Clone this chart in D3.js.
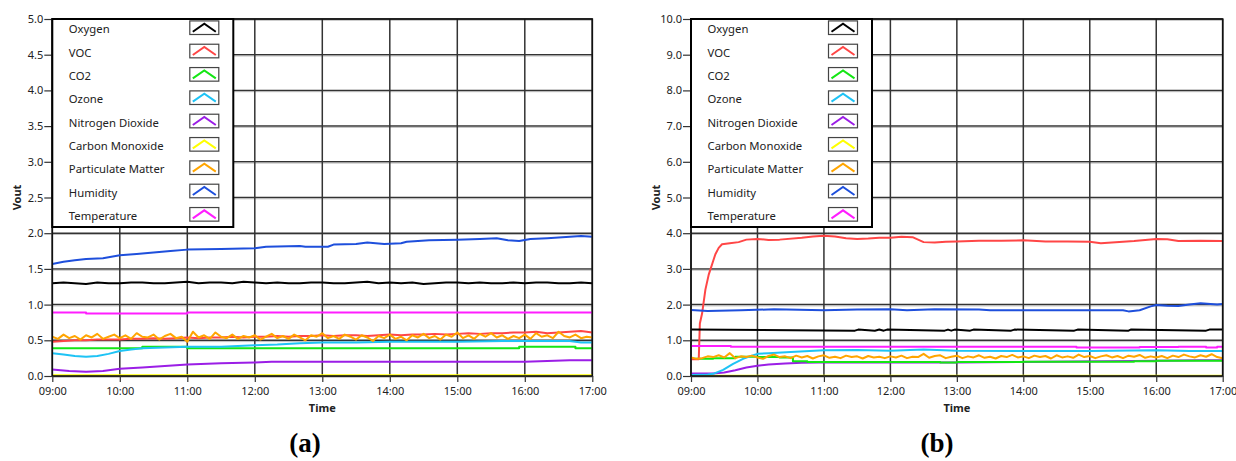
<!DOCTYPE html>
<html><head><meta charset="utf-8">
<script src="https://cdn.jsdelivr.net/npm/d3@7"></script>
<style>
body{margin:0;background:#fff;}
svg{display:block;}
text{font-family:"Noto Sans",sans-serif;fill:#222;}
text.plabel{font-family:"Liberation Serif","Times New Roman",serif;font-weight:bold;fill:#000;}
</style>
</head><body>
<svg id="c" width="1236" height="461"></svg>
<script>
// ---------------- DATA ----------------
const seriesNames = ["Oxygen","VOC","CO2","Ozone","Nitrogen Dioxide","Carbon Monoxide","Particulate Matter","Humidity","Temperature"];
const seriesColors = ["#000000","#ff4646","#14e614","#1ec3f5","#9b1ee6","#ffff00","#ffa500","#1e4fdc","#ff1eff"];
const drawOrder = ["Carbon Monoxide","Nitrogen Dioxide","CO2","Ozone","VOC","Particulate Matter","Oxygen","Humidity","Temperature"];
const stepSeries = ["CO2","Temperature"];
const yTicksA = [0,0.5,1,1.5,2,2.5,3,3.5,4,4.5,5];
const yTicksB = [0,1,2,3,4,5,6,7,8,9,10];
const timeStart = "09:00", timeEnd = "17:00";

// Panel (a) -- grid series (10-minute samples)
const oxygenA = [1.30,1.31,1.30,1.29,1.31,1.30,1.30,
 1.31,1.31,1.30,1.30,1.31,1.32,1.30,
 1.31,1.31,1.30,1.32,1.31,1.30,1.31,
 1.30,1.30,1.31,1.31,1.30,1.30,1.31,
 1.32,1.30,1.31,1.30,1.31,1.29,1.30,
 1.31,1.31,1.30,1.31,1.30,1.30,1.31,
 1.30,1.31,1.31,1.30,1.30,1.31,1.30];
const vocA = [0.48,0.49,0.50,0.50,0.51,0.51,
 0.51,0.52,0.52,0.53,0.52,0.53,
 0.54,0.53,0.54,0.54,0.55,0.54,
 0.55,0.55,0.56,0.55,0.56,0.56,
 0.57,0.56,0.57,0.57,0.56,0.57,
 0.58,0.57,0.58,0.58,0.59,0.58,
 0.59,0.60,0.59,0.60,0.60,0.61,
 0.61,0.62,0.60,0.61,0.62,0.63,
 0.61];
// Particulate matter (5-minute samples)
const pmA = [0.55,0.52,0.58,0.53,0.56,0.51,0.57,0.54,0.59,0.52,0.55,0.58,
 0.53,0.57,0.52,0.60,0.55,0.54,0.58,0.51,0.56,0.59,0.53,0.55,
 0.48,0.62,0.54,0.57,0.52,0.61,0.55,0.53,0.58,0.52,0.56,0.54,
 0.57,0.51,0.55,0.59,0.53,0.56,0.52,0.58,0.54,0.50,0.57,0.55,
 0.60,0.53,0.56,0.52,0.58,0.55,0.51,0.57,0.54,0.49,0.56,0.53,
 0.58,0.52,0.55,0.50,0.57,0.54,0.59,0.53,0.56,0.51,0.58,0.55,
 0.61,0.53,0.57,0.52,0.59,0.55,0.60,0.54,0.57,0.52,0.56,0.53,
 0.58,0.52,0.60,0.55,0.57,0.53,0.62,0.56,0.54,0.58,0.53,0.55,
 0.54];
// Panel (a) -- breakpoint series
const co2A = [["09:00",0.39],["10:20",0.41],["11:00",0.39],["15:55",0.41],["16:45",0.39],["17:00",0.39]];
const ozoneA = [["09:00",0.32],["09:10",0.30],["09:20",0.28],["09:30",0.27],["09:40",0.28],["09:50",0.31],["10:00",0.35],["10:10",0.37],["10:20",0.39],["10:40",0.40],["11:00",0.41],["11:30",0.41],["12:00",0.43],["12:20",0.44],["12:40",0.46],["13:00",0.47],["13:30",0.47],["14:00",0.48],["15:00",0.48],["15:40",0.49],["16:40",0.49],["16:50",0.47],["17:00",0.47]];
const no2A = [["09:00",0.09],["09:15",0.07],["09:30",0.06],["09:45",0.07],["10:00",0.10],["10:20",0.12],["10:40",0.14],["11:00",0.16],["11:30",0.18],["12:00",0.19],["12:15",0.20],["14:00",0.20],["16:00",0.20],["16:40",0.22],["17:00",0.22]];
const coA = [["09:00",0.01],["17:00",0.01]];
const humidityA = [["09:00",1.57],["09:10",1.60],["09:20",1.62],["09:30",1.64],["09:45",1.65],["10:00",1.69],["10:15",1.71],["10:30",1.73],["10:45",1.75],["11:00",1.77],["11:30",1.78],["12:00",1.79],["12:10",1.81],["12:40",1.82],["12:45",1.81],["13:05",1.81],["13:10",1.84],["13:30",1.85],["13:40",1.87],["13:55",1.85],["14:10",1.86],["14:15",1.88],["14:35",1.90],["15:00",1.91],["15:20",1.92],["15:35",1.93],["15:45",1.90],["15:55",1.89],["16:05",1.92],["16:20",1.93],["16:40",1.95],["16:50",1.96],["17:00",1.95]];
const temperatureA = [["09:00",0.89],["09:30",0.875],["11:00",0.89],["17:00",0.89]];

// Panel (b)
const oxygenB = [["09:00",1.30],["11:28",1.27],["11:31",1.30],["11:46",1.27],["11:50",1.30],["11:54",1.27],["11:57",1.30],["12:49",1.27],["12:52",1.30],["12:55",1.27],["12:58",1.30],["13:12",1.27],["13:15",1.30],["13:49",1.27],["13:52",1.30],["14:46",1.27],["14:49",1.30],["15:35",1.27],["15:37",1.30],["16:45",1.27],["16:48",1.30],["17:00",1.30]];
const vocB = [["09:00",0.47],["09:07",0.47],["09:08",1.47],["09:10",1.75],["09:13",2.42],["09:16",2.84],["09:18",3.03],["09:20",3.22],["09:22",3.41],["09:25",3.59],["09:28",3.69],["09:35",3.72],["09:43",3.75],["09:50",3.82],["10:00",3.84],["10:10",3.81],["10:20",3.82],["10:40",3.87],["10:50",3.91],["11:00",3.93],["11:10",3.91],["11:20",3.86],["11:30",3.84],["11:40",3.85],["11:50",3.87],["12:00",3.87],["12:10",3.90],["12:20",3.89],["12:30",3.75],["12:40",3.74],["12:50",3.76],["13:00",3.77],["13:20",3.79],["13:40",3.79],["14:00",3.80],["14:20",3.77],["14:40",3.77],["15:00",3.76],["15:10",3.72],["15:20",3.74],["15:40",3.78],["16:00",3.84],["16:10",3.83],["16:20",3.78],["16:40",3.79],["17:00",3.78]];
const co2B = [["09:00",0.48],["09:20",0.50],["09:40",0.54],["10:00",0.53],["10:20",0.52],["10:32",0.41],["10:45",0.39],["12:45",0.38],["13:00",0.39],["14:00",0.40],["15:40",0.41],["16:00",0.43],["17:00",0.43]];
const ozoneB = [["09:00",0.03],["09:15",0.04],["09:20",0.06],["09:29",0.17],["09:38",0.34],["09:47",0.48],["09:55",0.57],["10:00",0.62],["10:10",0.64],["10:30",0.67],["11:00",0.72],["11:30",0.73],["12:00",0.71],["12:30",0.74],["13:00",0.71],["14:00",0.70],["15:00",0.70],["16:00",0.72],["16:30",0.70],["17:00",0.70]];
const no2B = [["09:00",0.07],["09:20",0.07],["09:30",0.10],["09:40",0.16],["09:50",0.24],["10:00",0.29],["10:10",0.32],["10:25",0.35],["10:40",0.37],["10:55",0.38],["13:00",0.38],["15:40",0.42],["16:40",0.44],["17:00",0.44]];
const coB = [["09:00",0.01],["17:00",0.01]];
const pmB = [0.52,0.48,0.50,0.55,0.53,0.58,0.52,0.64,0.50,0.55,0.53,0.57,
 0.52,0.48,0.56,0.60,0.53,0.55,0.50,0.57,0.52,0.56,0.49,0.55,
 0.58,0.51,0.54,0.50,0.57,0.53,0.55,0.49,0.56,0.52,0.54,0.50,
 0.55,0.52,0.57,0.50,0.54,0.53,0.62,0.51,0.56,0.58,0.50,0.54,
 0.57,0.50,0.55,0.52,0.58,0.51,0.54,0.49,0.56,0.53,0.59,0.52,
 0.55,0.50,0.57,0.53,0.56,0.49,0.58,0.52,0.55,0.51,0.60,0.53,
 0.56,0.50,0.55,0.58,0.52,0.56,0.50,0.57,0.54,0.59,0.51,0.55,
 0.52,0.56,0.50,0.57,0.53,0.60,0.55,0.52,0.58,0.54,0.61,0.53,
 0.50];
const humidityB = [["09:00",1.85],["09:15",1.82],["09:45",1.84],["10:15",1.87],["11:00",1.84],["11:30",1.86],["12:00",1.87],["12:15",1.84],["12:40",1.87],["13:20",1.86],["13:30",1.84],["15:30",1.84],["15:35",1.81],["15:45",1.84],["15:55",1.95],["16:00",1.99],["16:10",1.97],["16:20",1.96],["16:30",2.00],["16:40",2.04],["16:55",2.00],["17:00",2.02]];
const temperatureB = [["09:00",0.84],["09:36",0.82],["14:48",0.80],["15:45",0.81],["16:20",0.82],["16:45",0.80],["16:55",0.82],["17:00",0.82]];

// ---------------- HELPERS ----------------
function tm(s){const p=s.split(":").map(Number);return new Date(2000,0,1,p[0],p[1]);}
function pairs(arr){return arr.map(d=>[tm(d[0]),d[1]]);}
function grid(vals,stepMin){return vals.map((v,i)=>[new Date(2000,0,1,9,i*stepMin),v]);}

const panels = [
 {L:52.3,R:592.3,T:19,B:376,yMax:5,yTicks:yTicksA,label:"(a)",labelX:305,
  data:{"Oxygen":grid(oxygenA,10),"VOC":grid(vocA,10),"CO2":pairs(co2A),"Ozone":pairs(ozoneA),
        "Nitrogen Dioxide":pairs(no2A),"Carbon Monoxide":pairs(coA),"Particulate Matter":grid(pmA,5),
        "Humidity":pairs(humidityA),"Temperature":pairs(temperatureA)}},
 {L:691,R:1222.7,T:19,B:376,yMax:10,yTicks:yTicksB,label:"(b)",labelX:937,
  data:{"Oxygen":pairs(oxygenB),"VOC":pairs(vocB),"CO2":pairs(co2B),"Ozone":pairs(ozoneB),
        "Nitrogen Dioxide":pairs(no2B),"Carbon Monoxide":pairs(coB),"Particulate Matter":grid(pmB,5),
        "Humidity":pairs(humidityB),"Temperature":pairs(temperatureB)}}
];

const svg = d3.select("#c");
const color = d3.scaleOrdinal().domain(seriesNames).range(seriesColors);

panels.forEach((p,pi)=>{
  const g = svg.append("g");
  const x = d3.scaleTime().domain([tm(timeStart),tm(timeEnd)]).range([p.L,p.R]);
  const y = d3.scaleLinear().domain([0,p.yMax]).range([p.B,p.T]);

  g.append("rect").attr("x",p.L).attr("y",p.T).attr("width",p.R-p.L).attr("height",p.B-p.T).attr("fill","#fff");

  // grid
  const hours = d3.timeHour.range(tm(timeStart), new Date(+tm(timeEnd)+1));
  g.append("g").selectAll("line").data(p.yTicks).join("line")
    .attr("x1",p.L).attr("x2",p.R).attr("y1",d=>y(d)).attr("y2",d=>y(d))
    .attr("stroke","#333").attr("stroke-width",1.5);
  g.append("g").selectAll("line").data(p.yTicks).join("line")
    .attr("x1",p.L).attr("x2",p.R).attr("y1",d=>y(d)+1.3).attr("y2",d=>y(d)+1.3)
    .attr("stroke","#b0b0b0").attr("stroke-width",0.8);
  g.append("g").selectAll("line").data(hours).join("line")
    .attr("x1",d=>x(d)).attr("x2",d=>x(d)).attr("y1",p.T).attr("y2",p.B)
    .attr("stroke","#333").attr("stroke-width",1.5);

  const cid = "clip"+pi;
  svg.append("clipPath").attr("id",cid).append("rect")
    .attr("x",p.L).attr("y",p.T-2).attr("width",p.R-p.L).attr("height",p.B-p.T+2);

  const lines = g.append("g").attr("clip-path",`url(#${cid})`);
  drawOrder.forEach(name=>{
    const gen = d3.line().x(d=>x(d[0])).y(d=>y(d[1]))
      .curve(stepSeries.includes(name)?d3.curveStepAfter:d3.curveLinear);
    lines.append("path").datum(p.data[name]).attr("d",gen)
      .attr("fill","none").attr("stroke",color(name)).attr("stroke-width",2)
      .attr("stroke-linejoin","round");
  });

  g.append("rect").attr("x",p.L).attr("y",p.T).attr("width",p.R-p.L).attr("height",p.B-p.T)
    .attr("fill","none").attr("stroke","#111").attr("stroke-width",1.6);

  const ya = g.append("g").attr("transform",`translate(${p.L},0)`)
    .call(d3.axisLeft(y).tickValues(p.yTicks).tickFormat(d3.format(".1f")).tickSize(8).tickPadding(1));
  ya.select(".domain").remove();
  ya.selectAll("text").attr("font-size",11).attr("fill","#222");
  ya.selectAll("line").attr("stroke","#333").attr("stroke-width",1.2);

  const xa = g.append("g").attr("transform",`translate(0,${p.B})`)
    .call(d3.axisBottom(x).ticks(d3.timeHour.every(1)).tickFormat(d3.timeFormat("%H:%M")).tickSize(6).tickPadding(5));
  xa.select(".domain").remove();
  xa.selectAll("text").attr("font-size",11).attr("fill","#222");
  xa.selectAll("line").attr("stroke","#333").attr("stroke-width",1.2);

  g.append("text").attr("transform",`translate(${p.L-31},${(p.T+p.B)/2}) rotate(-90)`)
    .attr("text-anchor","middle").attr("font-size",11).attr("font-weight","bold").text("Vout");
  g.append("text").attr("x",(p.L+p.R)/2).attr("y",412).attr("text-anchor","middle")
    .attr("font-size",11).attr("font-weight","bold").text("Time");

  // legend
  const lg = g.append("g");
  lg.append("rect").attr("x",p.L).attr("y",p.T).attr("width",181).attr("height",208)
    .attr("fill","#fff").attr("stroke","#000").attr("stroke-width",2);
  seriesNames.forEach((name,i)=>{
    const cy = p.T + 8.7 + i*23.33;
    lg.append("text").attr("x",p.L+16.5).attr("y",cy+5.5).attr("font-size",11.3).text(name);
    const sx = p.L+137.5;
    lg.append("rect").attr("x",sx).attr("y",cy-6.8).attr("width",29).attr("height",13.6)
      .attr("fill","#fff").attr("stroke","#444").attr("stroke-width",1.2);
    lg.append("path").attr("d",`M${sx+3},${cy+4} L${sx+14.5},${cy-4} L${sx+26},${cy+4}`)
      .attr("fill","none").attr("stroke",color(name)).attr("stroke-width",2);
  });

  svg.append("text").attr("class","plabel").attr("x",p.labelX).attr("y",452).attr("text-anchor","middle")
    .attr("font-size",27).text(p.label);
});
</script>
</body></html>
